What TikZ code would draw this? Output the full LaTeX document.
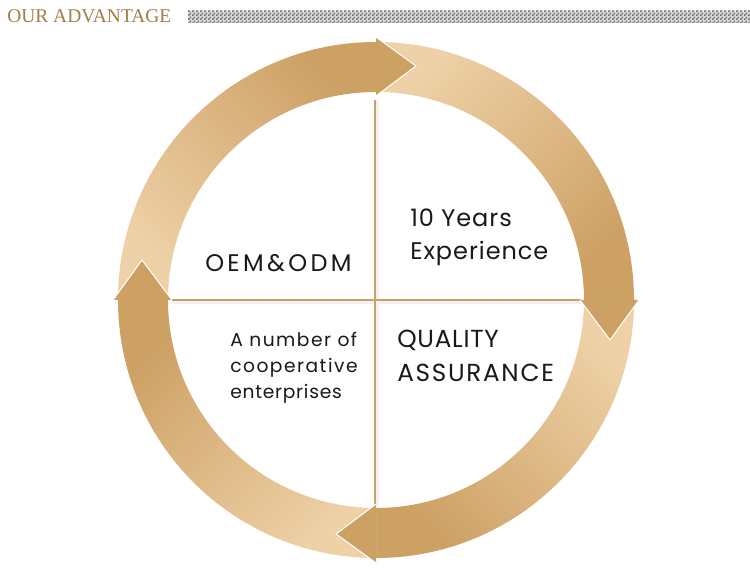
\documentclass[tikz,border=0pt]{standalone}
\usepackage{fontspec}
\setmainfont{Liberation Serif}
\newfontfamily\gothic{Poppins}
\usetikzlibrary{patterns}
\definecolor{goldlight}{RGB}{238,209,167}
\definecolor{golddark}{RGB}{205,160,100}
\definecolor{goldhead}{RGB}{205,160,100}
\definecolor{goldline}{RGB}{201,160,106}
\definecolor{goldtitle}{RGB}{166,124,70}
\definecolor{textdark}{RGB}{25,25,25}
\pgfdeclarepatternformonly{finecheck}{\pgfpointorigin}{\pgfqpoint{3pt}{3pt}}{\pgfqpoint{3pt}{3pt}}{%
  \pgfpathrectangle{\pgfpointorigin}{\pgfqpoint{1.5pt}{1.5pt}}%
  \pgfpathrectangle{\pgfqpoint{1.5pt}{1.5pt}}{\pgfqpoint{1.5pt}{1.5pt}}%
  \pgfusepath{fill}}
\begin{document}
\begin{tikzpicture}[x=0.75pt,y=0.75pt,
  seg/.style={top color=goldlight,bottom color=golddark},
  headfill/.style={fill=goldhead},
  headedge/.style={draw=white,line width=0.8pt,line join=miter},
  axisline/.style={draw=goldline,line width=0.9pt},
  axisshadow/.style={draw=black!5,line width=2.5pt},
  lbl/.style={inner sep=0pt,anchor=base west,text=textdark},
  bigtext/.style={lbl,font=\gothic\fontsize{18}{20}\selectfont},
  qtext/.style={lbl,font=\gothic\fontsize{18.5}{20}\selectfont},
  smalltext/.style={lbl,font=\gothic\fontsize{14}{16}\selectfont},
  title/.style={inner sep=0pt,anchor=base west,text=goldtitle,font=\fontsize{14.6}{16}\selectfont}]
\useasboundingbox (0,0) rectangle (750,584);
\fill[white] (0,0) rectangle (750,584);
% header
\node[title] (ttl) at (7,561) {OUR ADVANTAGE};
\fill[black!15] (188,561) rectangle (750,573);
\fill[pattern=finecheck,pattern color=black!55] (188,561) rectangle (750,573);
% axis lines
\coordinate (vtop) at (375,484);
\coordinate (vbot) at (375,79);
\coordinate (hl) at (172,284);
\coordinate (hr) at (581,284);
\draw[axisshadow] ([xshift=1.8pt]vtop) -- ([xshift=1.8pt]vbot);
\draw[axisshadow] ([yshift=-1.8pt]hl) -- ([yshift=-1.8pt]hr);
\draw[axisline] (vtop) -- (vbot);
\draw[axisline] (hl) -- (hr);
\begin{scope}[shift={(376,284)}]
  \def\Ro{258}\def\Ri{208}
  \shade[seg,shading angle=135] (180:\Ro) arc[start angle=180,end angle=90,radius=\Ro] -- (90:\Ri) arc[start angle=90,end angle=180,radius=\Ri] -- cycle;
  \shade[seg,shading angle=45] (90:\Ro) arc[start angle=90,end angle=0,radius=\Ro] -- (0:\Ri) arc[start angle=0,end angle=90,radius=\Ri] -- cycle;
  \shade[seg,shading angle=-45] (0:\Ro) arc[start angle=0,end angle=-90,radius=\Ro] -- (-90:\Ri) arc[start angle=-90,end angle=0,radius=\Ri] -- cycle;
  \shade[seg,shading angle=-135] (-90:\Ro) arc[start angle=-90,end angle=-180,radius=\Ro] -- (-180:\Ri) arc[start angle=-180,end angle=-90,radius=\Ri] -- cycle;
  % heads
  \fill[headfill] (0,204) -- (0,263) -- (40,234) -- cycle;
  \draw[headedge] (0,263) -- (40,234) -- (0,204);
  \fill[headfill] (204,0) -- (263,0) -- (234,-40) -- cycle;
  \draw[headedge] (263,0) -- (234,-40) -- (204,0);
  \fill[headfill] (0,-204) -- (0,-263) -- (-40,-234) -- cycle;
  \draw[headedge] (0,-263) -- (-40,-234) -- (0,-204);
  \fill[headfill] (-204,0) -- (-263,0) -- (-234,40) -- cycle;
  \draw[headedge] (-263,0) -- (-234,40) -- (-204,0);
\end{scope}
% texts
\node[bigtext] (oem) at (205,312) {\addfontfeature{LetterSpace=14}OEM\&ODM};
\node[bigtext] (yrs) at (410,357) {\addfontfeature{LetterSpace=4}10 Years};
\node[bigtext] (exp) at (410,324) {\addfontfeature{LetterSpace=4}Experience};
\node[qtext] (qual) at (397,236) {\addfontfeature{LetterSpace=3}QUALITY};
\node[qtext] (assu) at (397,202) {\addfontfeature{LetterSpace=7}ASSURANCE};
\node[smalltext] (num) at (230,237) {\addfontfeature{LetterSpace=8}A number of};
\node[smalltext] (coop) at (230,211) {\addfontfeature{LetterSpace=8}cooperative};
\node[smalltext] (ent) at (230,185) {\addfontfeature{LetterSpace=4}enterprises};
\end{tikzpicture}
\end{document}
